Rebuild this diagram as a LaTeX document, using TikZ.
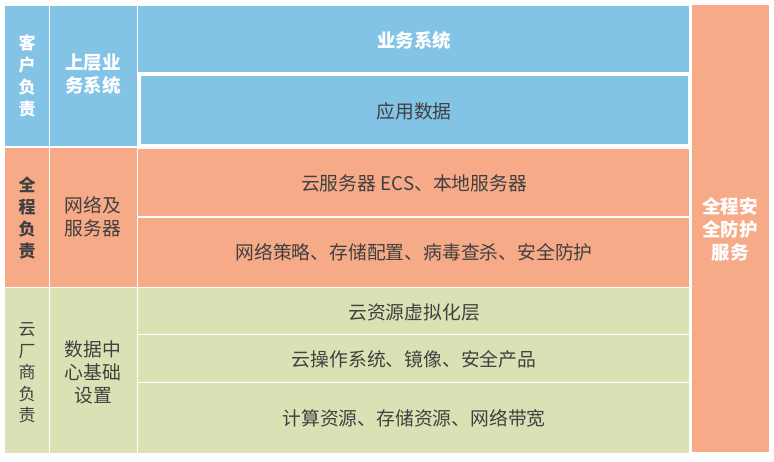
\documentclass[tikz,border=0pt]{standalone}
\usepackage{fontspec}
\setmainfont{Noto Sans CJK SC}
\definecolor{cblue}{RGB}{130,195,230}
\definecolor{corange}{RGB}{247,170,136}
\definecolor{cgreen}{RGB}{217,226,180}
\definecolor{ctext}{RGB}{64,64,64}
\tikzset{
  cell/.style={draw=white, line width=1.5pt, inner sep=0pt, align=center, text=ctext},
  wt/.style={text=white, font=\bfseries\fontsize{18.5}{23}\selectfont},
  dt/.style={text=ctext, font=\fontsize{18.8}{23}\selectfont},
}
\begin{document}
\begin{tikzpicture}[x=1pt,y=-1pt]
\useasboundingbox[fill=white] (0,0) rectangle (774,462);
\newcommand{\cellbox}[6]{% name, x1,y1,x2,y2, color
  \path[cell, fill=#6] (#2,#3) rectangle (#4,#5);
  \coordinate (#1) at ({(#2+#4)/2},{(#3+#5)/2});
}
% blue band
\cellbox{c11}{4}{5}{49.5}{147}{cblue}
\cellbox{c12}{49.5}{5}{137.5}{147}{cblue}
\cellbox{c13}{137.5}{5}{690}{72.5}{cblue}
\path[draw=white, line width=4pt, fill=cblue] (138.5,74.5) rectangle (690,146.5);
\coordinate (c14) at (414,110.5);
% orange band
\cellbox{c21}{4}{147}{49.5}{287.5}{corange}
\cellbox{c22}{49.5}{147}{137.5}{287.5}{corange}
\cellbox{c23}{137.5}{148}{690}{217}{corange}
\cellbox{c24}{137.5}{217}{690}{287.5}{corange}
% green band
\cellbox{c31}{4}{287.5}{49.5}{453.5}{cgreen}
\cellbox{c32}{49.5}{287.5}{137.5}{453.5}{cgreen}
\cellbox{c33}{137.5}{287.5}{690}{334.5}{cgreen}
\cellbox{c34}{137.5}{334.5}{690}{382.5}{cgreen}
\cellbox{c35}{137.5}{382.5}{690}{453.5}{cgreen}
% right column
\cellbox{c4}{691.5}{4.5}{769.5}{452.5}{corange}
% texts
\node[text=white, font=\bfseries\fontsize{17}{22.3}\selectfont, align=center] (t11) at (27,76) {客\\户\\负\\责};
\node[wt, align=center] (t12) at (93,74) {上层业\\务系统};
\node[wt] (t13) at (414,40) {业务系统};
\node[dt] (t14) at (414,111) {应用数据};
\node[text=ctext, font=\bfseries\fontsize{17}{22.3}\selectfont, align=center] (t21) at (27,218) {全\\程\\负\\责};
\node[dt, align=center] (t22) at (93,217) {网络及\\服务器};
\node[dt] (t23) at (414,183) {云服务器 ECS、本地服务器};
\node[dt] (t24) at (414,252) {网络策略、存储配置、病毒查杀、安全防护};
\node[text=ctext, font=\fontsize{17}{21.5}\selectfont, align=center] (t31) at (27,373) {云\\厂\\商\\负\\责};
\node[dt, align=center] (t32) at (93,372) {数据中\\心基础\\设置};
\node[dt] (t33) at (414,312) {云资源虚拟化层};
\node[dt] (t34) at (414,359) {云操作系统、镜像、安全产品};
\node[dt] (t35) at (414,418) {计算资源、存储资源、网络带宽};
\node[wt, align=center] (t4) at (730,229) {全程安\\全防护\\服务};
\end{tikzpicture}
\end{document}
